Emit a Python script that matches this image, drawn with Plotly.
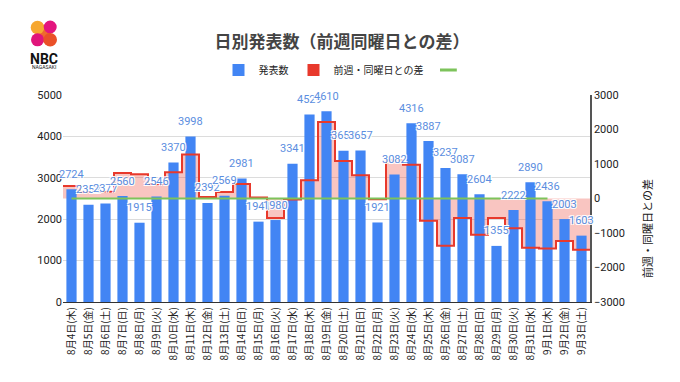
import plotly.graph_objects as go

# ---- data ----
dates = ["8月4日(木)", "8月5日(金)", "8月6日(土)", "8月7日(日)", "8月8日(月)", "8月9日(火)",
         "8月10日(水)", "8月11日(木)", "8月12日(金)", "8月13日(土)", "8月14日(日)", "8月15日(月)",
         "8月16日(火)", "8月17日(水)", "8月18日(木)", "8月19日(金)", "8月20日(土)", "8月21日(日)",
         "8月22日(月)", "8月23日(火)", "8月24日(水)", "8月25日(木)", "8月26日(金)", "8月27日(土)",
         "8月28日(日)", "8月29日(月)", "8月30日(火)", "8月31日(水)", "9月1日(木)", "9月2日(金)",
         "9月3日(土)"]
counts = [2724, 2352, 2377, 2560, 1915, 2546, 3370, 3998, 2392, 2569, 2981, 1941, 1980, 3341,
          4529, 4610, 3653, 3657, 1921, 3082, 4316, 3887, 3237, 3087, 2604, 1355, 2222, 2890,
          2436, 2003, 1603]
diffs = [360, 180, 200, 740, 700, 420, 760, 1274, 40, 192, 421, 26, -566, -29, 531, 2218, 1084,
         676, -20, 1102, 975, -642, -1373, -566, -1053, -566, -860, -1426, -1451, -1234, -1484]
zero_line = [0] * 29
left_ticks = [0, 1000, 2000, 3000, 4000, 5000]
right_ticks = [-3000, -2000, -1000, 0, 1000, 2000, 3000]

BLUE = "#4285f4"
RED = "#e8392c"
GREEN = "#7dc35b"
LABEL_BLUE = "#5b8ee0"
FONT = "Roboto, Noto Sans CJK JP, sans-serif"
JFONT = "Noto Sans CJK JP, sans-serif"

W, H = 680, 382
OFF = 8  # page body offset of the rendered figure

idx = list(range(len(dates)))
# step edges: each category's value spans its full band
step_x, step_y = [], []
for i, d in zip(idx, diffs):
    step_x += [i - 0.5, i + 0.5]
    step_y += [d, d]

fig = go.Figure()
# pink area (bottom layer)
fig.add_trace(go.Scatter(x=step_x, y=step_y, yaxis="y", mode="lines", line=dict(width=0),
                         fill="tozeroy", fillcolor="rgba(236,80,66,0.33)", showlegend=False,
                         hoverinfo="skip"))
# bars
fig.add_trace(go.Bar(x=idx, y=counts, yaxis="y2", name="発表数", marker_color=BLUE,
                     marker_line_width=0, width=0.6))
# red legend entry
fig.add_trace(go.Scatter(x=[None], y=[None], yaxis="y3", mode="markers", name="前週・同曜日との差",
                         marker=dict(symbol="square", size=12, color=RED)))
# green legend entry
fig.add_trace(go.Scatter(x=[None], y=[None], yaxis="y3", mode="markers", name="",
                         marker=dict(symbol="line-ew-open", size=12, color=GREEN,
                                     line=dict(color=GREEN, width=3))))
# red step line (top)
fig.add_trace(go.Scatter(x=step_x, y=step_y, yaxis="y3", mode="lines",
                         line=dict(color=RED, width=2), showlegend=False))
# green zero line
fig.add_trace(go.Scatter(x=idx[:len(zero_line)], y=zero_line, yaxis="y3", mode="lines",
                         line=dict(color=GREEN, width=2), showlegend=False))

halo = "-1px -1px 0 #fff, 1px -1px 0 #fff, -1px 1px 0 #fff, 1px 1px 0 #fff"
for i, v in zip(idx, counts):
    fig.add_annotation(x=i, y=v, xref="x", yref="y2", text=str(v), showarrow=False,
                       xanchor="center", yanchor="middle", yshift=15,
                       font=dict(family=FONT, size=11, color=LABEL_BLUE, shadow=halo))

# plot area in reference pixels: x 63..590, y 95..302
def px(x):
    return (x - 63) / 527

def py(y):
    return (302 - y) / 207

# right axis title
fig.add_annotation(xref="paper", yref="paper", x=px(647), y=py(229), xanchor="center",
                   yanchor="middle", text="前週・同曜日との差", textangle=-90, showarrow=False,
                   font=dict(family=JFONT, size=11, color="#222"))

# logo
logo = [(37.5, 27.5, 6.8, "#f6a730"), (50.2, 27.0, 6.5, "#e3157e"),
        (37.5, 39.8, 6.5, "#e0157a"), (50.2, 39.8, 6.8, "#ea5028")]
fig.add_shape(type="path", xref="paper", yref="paper", line_width=0, fillcolor="#ee6a2e",
              path=f"M {px(33)} {py(30)} L {px(41)} {py(22)} L {px(54)} {py(37)} L {px(46)} {py(45)} Z")
for cx, cy, r, c in logo:
    fig.add_shape(type="circle", xref="paper", yref="paper", x0=px(cx - r), x1=px(cx + r),
                  y0=py(cy + r), y1=py(cy - r), fillcolor=c, line_width=0)
fig.add_annotation(xref="paper", yref="paper", x=px(44), y=py(58.5), xanchor="center",
                   yanchor="middle", text="<b>NBC</b>", showarrow=False,
                   font=dict(family="Roboto, sans-serif", size=14, color="#111"))
fig.add_annotation(xref="paper", yref="paper", x=px(44), y=py(67), xanchor="center",
                   yanchor="middle", text="NAGASAKI", showarrow=False,
                   font=dict(family="Roboto, sans-serif", size=5, color="#111"))

fig.update_layout(
    width=W, height=H,
    margin=dict(l=63 - OFF, r=W - 590 + OFF, t=95 - OFF, b=H - 302 + OFF, autoexpand=False),
    paper_bgcolor="white", plot_bgcolor="white",
    barmode="overlay",
    font=dict(family=FONT, color="#222"),
    title=dict(text="<b>日別発表数（前週同曜日との差）</b>", x=(342 - OFF) / W, xref="container",
               xanchor="center", y=1 - (42 - OFF) / H, yanchor="middle",
               font=dict(family=JFONT, size=17, color="#444")),
    legend=dict(orientation="h", xref="container", yref="container", x=(346 - OFF) / W,
                xanchor="center", y=1 - (70 - OFF) / H, yanchor="middle",
                font=dict(family=JFONT, size=10, color="#222"), traceorder="normal"),
    xaxis=dict(range=[-0.5, len(dates) - 0.5], tickvals=idx, ticktext=dates, tickangle=-90,
               showline=True, linecolor="#333", linewidth=1, showgrid=False, zeroline=False,
               ticks="", automargin=False, tickfont=dict(family=JFONT, size=10, color="#222")),
    yaxis=dict(side="right", range=[-3000, 3000], tickvals=right_ticks, showgrid=False,
               zeroline=False, showline=True, linecolor="#555", linewidth=1.5, ticks="",
               automargin=False, tickfont=dict(size=11, color="#222")),
    yaxis2=dict(overlaying="y", side="left", range=[0, 5000], tickvals=left_ticks,
                showgrid=True, gridcolor="#dcdcdc", zeroline=False, showline=False, ticks="",
                automargin=False, tickfont=dict(size=11, color="#222")),
    yaxis3=dict(overlaying="y", range=[-3000, 3000], visible=False, automargin=False),
)

fig.write_html("out.html")
